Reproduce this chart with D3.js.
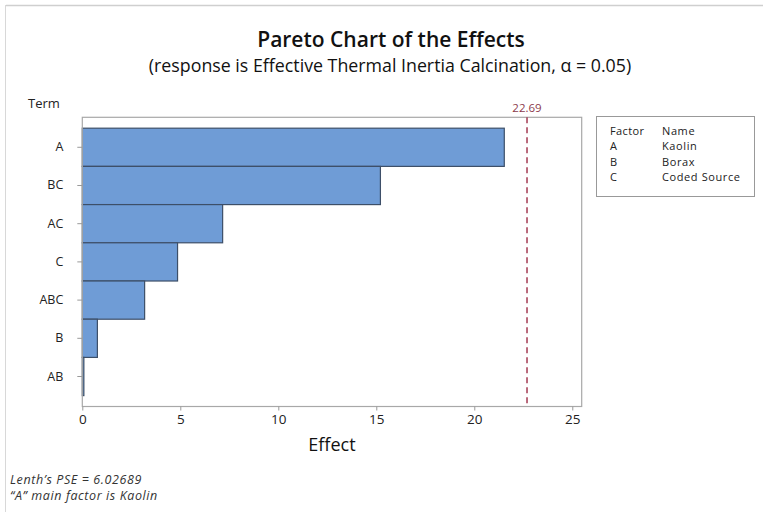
<!DOCTYPE html>
<html>
<head>
<meta charset="utf-8">
<script src="https://cdn.jsdelivr.net/npm/d3@7"></script>
<style>
  html, body { margin: 0; padding: 0; background: #fff; }
  svg { display: block; font-family: "Open Sans", "Noto Sans", sans-serif; }
</style>
</head>
<body>
<svg id="chart" width="763" height="512"></svg>
<script>
// Standardized effects, largest first
const terms = ["A", "BC", "AC", "C", "ABC", "B", "AB"];
const effects = [21.53, 15.21, 7.16, 4.86, 3.18, 0.77, 0.08];
const xTicks = [0, 5, 10, 15, 20, 25];
const criticalValue = 22.69;
const factorCodes = ["A", "B", "C"];
const factorNames = ["Kaolin", "Borax", "Coded Source"];
const notes = ["Lenth\u2019s PSE = 6.02689", "\u201CA\u201D main factor is Kaolin"];

const svg = d3.select("#chart");

// outer frame (top and left edges)
svg.append("line").attr("x1", 6).attr("x2", 763).attr("y1", 5.5).attr("y2", 5.5)
  .attr("stroke", "#cfcfcf").attr("stroke-width", 1.5);
svg.append("line").attr("x1", 5.5).attr("x2", 5.5).attr("y1", 5).attr("y2", 512)
  .attr("stroke", "#d8d8d8").attr("stroke-width", 1);

const plot = { left: 82.3, right: 581.7, top: 117.3, bottom: 406.5 };

const x = d3.scaleLinear().domain([0, 25.48]).range([plot.left, plot.right]);
const y = d3.scaleBand().domain(terms).range([plot.top, plot.bottom])
  .paddingInner(0).paddingOuter(0.285);

// titles
svg.append("text").attr("x", 391).attr("y", 47).attr("text-anchor", "middle")
  .attr("font-size", 21).attr("font-weight", 600).attr("fill", "#111")
  .text("Pareto Chart of the Effects");
svg.append("text").attr("x", 390).attr("y", 72).attr("text-anchor", "middle")
  .attr("font-size", 17.8).attr("fill", "#111")
  .text("(response is Effective Thermal Inertia Calcination, \u03B1 = 0.05)");

// bars
svg.append("g").selectAll("rect").data(terms).join("rect")
  .attr("x", x(0))
  .attr("y", d => y(d))
  .attr("width", (d, i) => x(effects[i]) - x(0))
  .attr("height", y.bandwidth())
  .attr("fill", "#6f9cd6")
  .attr("stroke", "#3d4f68")
  .attr("stroke-width", 1.2);

// plot frame
svg.append("rect")
  .attr("x", plot.left).attr("y", plot.top)
  .attr("width", plot.right - plot.left).attr("height", plot.bottom - plot.top)
  .attr("fill", "none").attr("stroke", "#a8a8a8").attr("stroke-width", 1.2);

// reference line at the critical effect
svg.append("line")
  .attr("x1", x(criticalValue)).attr("x2", x(criticalValue))
  .attr("y1", plot.top).attr("y2", plot.bottom)
  .attr("stroke", "#a33a52").attr("stroke-width", 1.5)
  .attr("stroke-dasharray", "6,4");
svg.append("text").attr("x", x(criticalValue)).attr("y", 112)
  .attr("text-anchor", "middle").attr("font-size", 11.5).attr("fill", "#8c3b4c")
  .text(d3.format(".2f")(criticalValue));

// x axis
const xAxis = svg.append("g").attr("transform", `translate(0,${plot.bottom})`)
  .call(d3.axisBottom(x).tickValues(xTicks).tickSize(4).tickPadding(4).tickFormat(d3.format("d")));
xAxis.select(".domain").remove();
xAxis.selectAll("line").attr("stroke", "#999");
xAxis.selectAll("text").attr("font-size", 13.5).attr("fill", "#222")
  .attr("font-family", "\"Open Sans\", sans-serif");

// y axis
const yAxis = svg.append("g").attr("transform", `translate(${plot.left},0)`)
  .call(d3.axisLeft(y).tickSize(5).tickPadding(14));
yAxis.select(".domain").remove();
yAxis.selectAll("line").attr("stroke", "#999");
yAxis.selectAll("text").attr("font-size", 12.5).attr("fill", "#222")
  .attr("font-family", "\"Open Sans\", sans-serif");

// axis titles
svg.append("text").attr("x", 28).attr("y", 108).attr("font-size", 13).attr("fill", "#222")
  .text("Term");
svg.append("text").attr("x", 332).attr("y", 451).attr("text-anchor", "middle")
  .attr("font-size", 18).attr("fill", "#111").text("Effect");

// factor legend
const lg = svg.append("g");
lg.append("rect").attr("x", 596.5).attr("y", 116.5).attr("width", 158).attr("height", 80)
  .attr("fill", "#fff").attr("stroke", "#999").attr("stroke-width", 1);
const legendRows = [["Factor", "Name"]].concat(factorCodes.map((c, i) => [c, factorNames[i]]));
legendRows.forEach((row, i) => {
  const yy = 135 + i * 15.4;
  lg.append("text").attr("x", 610).attr("y", yy).attr("font-size", 11)
    .attr("letter-spacing", 0.4).attr("fill", "#222").text(row[0]);
  lg.append("text").attr("x", 662).attr("y", yy).attr("font-size", 11)
    .attr("letter-spacing", 0.6).attr("fill", "#222").text(row[1]);
});

// footnotes
svg.append("g").selectAll("text").data(notes).join("text")
  .attr("x", 10).attr("y", (d, i) => 484 + i * 16)
  .attr("font-size", 12.5).attr("letter-spacing", 0.6)
  .attr("font-style", "italic").attr("fill", "#333")
  .text(d => d);
</script>
</body>
</html>
